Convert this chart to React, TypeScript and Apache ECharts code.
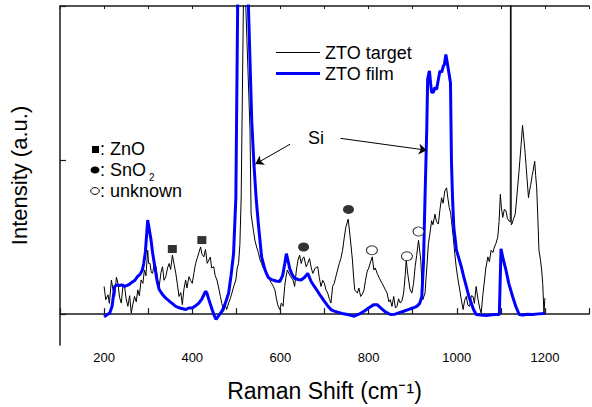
import React, { useEffect, useRef } from "react";
import * as echarts from "echarts";

// Raman shift (cm^-1), intensity (a.u.)
const ztoTarget: [number, number][] = [
  [200, 0.18], [203.8, 0.094], [209, 0.126], [212, 0.07], [216.6, 0.222], [220, 0.16], [224, 0.115], [228, 0.24],
  [231.5, 0.2], [235, 0.11], [239, 0.072], [243, 0.19], [246.5, 0.18], [250, 0.1], [254, 0.051], [258, 0.12],
  [261.6, 0.008], [265, 0.06], [269, 0.115], [273, 0.08], [276.4, 0.158], [280, 0.12], [284, 0.222],
  [288, 0.2], [291.5, 0.287], [295, 0.25], [298.9, 0.415], [301, 0.33], [304.3, 0.329], [307, 0.27],
  [310, 0.265], [314, 0.33], [317.8, 0.308], [321, 0.23], [325, 0.18], [329, 0.27], [332.6, 0.308],
  [336, 0.22], [340, 0.244], [344, 0.3], [347.6, 0.329], [351, 0.29], [355, 0.383], [359, 0.32],
  [362.7, 0.265], [366, 0.2], [370, 0.115], [374, 0.14], [377.5, 0.062], [381, 0.16], [385, 0.222],
  [388, 0.17], [392.6, 0.244], [396, 0.22], [400, 0.2], [404, 0.27], [407.6, 0.329], [412, 0.37],
  [418.9, 0.436], [422, 0.39], [426.3, 0.372], [430, 0.42], [434, 0.33], [437.5, 0.351], [441, 0.37],
  [444, 0.3], [448.8, 0.308], [452, 0.25], [456, 0.222], [460, 0.17], [463.8, 0.115], [467, 0.07],
  [471.2, 0.019], [475, 0.06], [478, 0.03], [482.5, 0.072], [486, 0.1], [490, 0.137], [494, 0.18],
  [498.9, 0.222], [502, 0.3], [505, 0.329], [508, 0.45], [511, 0.76], [516, 2.0], [518.5, 5],
  [521.4, 2.0], [531, 1.2], [533.5, 0.649], [538.7, 0.545], [542, 0.48], [546, 0.436], [550, 0.4],
  [553, 0.36], [557.3, 0.329], [561, 0.3], [565, 0.29], [568, 0.26], [572.4, 0.244], [576, 0.22],
  [580, 0.2], [584, 0.18], [587.4, 0.158], [591, 0.1], [594, 0.06], [598.6, 0.03], [602, 0.072],
  [606, 0.051], [609.7, 0.18], [612, 0.23], [615.7, 0.287], [621, 0.254], [628.5, 0.222],
  [632.3, 0.18], [636, 0.28], [639.8, 0.351], [643.6, 0.383], [647.2, 0.329], [650, 0.36],
  [653.3, 0.372], [658.4, 0.308], [662, 0.33], [666, 0.361], [670, 0.3], [673.5, 0.265],
  [679, 0.3], [684.7, 0.308], [688, 0.24], [692, 0.18], [696, 0.22], [699.8, 0.2], [703, 0.16],
  [707.2, 0.137], [711, 0.1], [714.6, 0.072], [718.4, 0.18], [722, 0.2], [725.8, 0.244],
  [729, 0.28], [733.5, 0.329], [737, 0.36], [741, 0.415], [745, 0.5], [748.3, 0.564],
  [753.7, 0.617], [758.2, 0.5], [763.4, 0.351], [766, 0.24], [768.5, 0.158], [774.6, 0.137],
  [778, 0.17], [782, 0.115], [786, 0.13], [789.7, 0.158], [793, 0.22], [797, 0.28],
  [800.5, 0.3], [804.5, 0.34], [808.3, 0.372], [812, 0.287], [815, 0.3], [819.5, 0.265],
  [825, 0.23], [830.8, 0.2], [836, 0.17], [842, 0.137], [846, 0.08], [849.4, 0.094],
  [853, 0.05], [857, 0.115], [861, 0.04], [864.5, 0.051], [868, 0.1], [872, 0.072],
  [876, 0.09], [879.5, 0.137], [883, 0.25], [885.4, 0.351], [888, 0.28], [890.8, 0.222],
  [894, 0.16], [898.2, 0.137], [902, 0.2], [905.6, 0.308], [909, 0.38], [913.3, 0.479],
  [918.4, 0.351], [921, 0.2], [923, 0.094], [928, 0.137], [932, 0.3], [935.7, 0.457],
  [939, 0.52], [943, 0.607], [946, 0.58], [950.6, 0.649], [954, 0.6], [958.2, 0.585],
  [962, 0.68], [965.6, 0.756], [969, 0.72], [973, 0.8], [976.9, 0.82], [980, 0.75],
  [983, 0.692], [986, 0.66], [988, 0.607], [992, 0.5], [995.5, 0.393], [999, 0.3],
  [1003, 0.222], [1006.8, 0.158], [1010, 0.1], [1014.4, 0.03], [1018, 0.09], [1021.7, 0.115],
  [1025, 0.06], [1029.2, 0.051], [1033, 0.12], [1036.8, 0.115], [1040, 0.07], [1044, 0.18],
  [1048, 0.1], [1052, 0.04], [1055.5, 0.008], [1059, 0.12], [1063, 0.222], [1066, 0.3],
  [1070.6, 0.372], [1074, 0.34], [1078, 0.415], [1082, 0.4], [1085.4, 0.436], [1089, 0.46],
  [1093, 0.5], [1096, 0.6], [1098.9, 0.778], [1101, 0.7], [1104.3, 0.628], [1108, 0.68],
  [1111.7, 0.671], [1115, 0.62], [1117.8, 0.607], [1121.4, 0.6], [1122.5, 5], [1123.6, 0.58],
  [1125.2, 0.585], [1129, 0.62], [1132.6, 0.649], [1135, 0.72], [1138, 0.82], [1141, 0.92],
  [1143, 0.992], [1146, 1.1], [1149.2, 1.226], [1152.8, 1.12], [1155, 1.05], [1158.2, 0.928],
  [1162.7, 0.756], [1165, 0.8], [1168, 0.842], [1171, 0.9], [1173, 0.928], [1176.8, 0.992],
  [1179, 0.9], [1181.3, 0.82], [1184, 0.62], [1186.5, 0.415], [1190, 0.35], [1192.6, 0.287],
  [1195, 0.2], [1197.8, 0.008], [1200, 0.104],
];

const ztoFilm: [number, number][] = [
  [200, -0.017], [206, -0.005], [212.8, 0.008], [218, 0.05], [224, 0.18], [229, 0.19], [235, 0.186],
  [240, 0.19], [246.5, 0.18], [255, 0.19], [265, 0.21], [270, 0.22], [275.7, 0.244], [282, 0.26],
  [287, 0.288], [290, 0.33], [293.7, 0.404], [298.9, 0.611], [302, 0.56], [306.5, 0.481],
  [310, 0.4], [314, 0.327], [320, 0.22], [325, 0.16], [332, 0.13], [340, 0.104], [350, 0.08],
  [362.7, 0.051], [372, 0.04], [385, 0.03], [392, 0.04], [400, 0.04], [408, 0.055], [415, 0.072],
  [422, 0.1], [430, 0.147], [433, 0.14], [437.5, 0.096], [445, 0.03], [450, -0.01], [454, -0.034],
  [460, -0.01], [467.4, 0.019], [475, 0.07], [482.5, 0.137], [488, 0.25], [493.7, 0.393],
  [498.9, 0.756], [503, 2.0], [515, 5], [527.4, 2.0], [535, 1.25], [540, 0.97], [545, 0.75],
  [550, 0.585], [557.3, 0.372], [565, 0.288], [572, 0.24], [580, 0.224], [590, 0.215],
  [598.6, 0.212], [605, 0.25], [610, 0.33], [613.5, 0.393], [617, 0.35], [621, 0.297],
  [626, 0.26], [632, 0.233], [640, 0.225], [647, 0.222], [655, 0.24], [662, 0.265],
  [669.7, 0.212], [677, 0.18], [684.7, 0.147], [692, 0.115], [699.8, 0.083], [707, 0.055],
  [714.6, 0.03], [722, 0.02], [729.7, 0.013], [740, 0.005], [752, -0.002], [760, -0.008],
  [767, -0.013], [778, 0.0], [789.7, 0.019], [800, 0.04], [812, 0.062], [819.5, 0.062],
  [828, 0.04], [838, 0.015], [849.4, -0.002], [860, 0.0], [870, 0.01], [879.5, 0.019],
  [890, 0.03], [900, 0.04], [909.4, 0.051], [916, 0.07], [920.7, 0.115], [924.5, 0.329],
  [928, 0.756], [932, 1.205], [934, 1.526], [938, 1.579], [941, 1.49], [943, 1.44],
  [947, 1.44], [950, 1.47], [954.4, 1.46], [958, 1.52], [962, 1.579], [966, 1.57],
  [969.5, 1.61], [972, 1.62], [975.3, 1.686], [978.4, 1.633], [982, 1.57], [985.8, 1.5],
  [988, 0.99], [990.5, 0.75], [993.3, 0.564], [999.3, 0.415], [1004, 0.37], [1010.4, 0.308],
  [1016, 0.24], [1021.7, 0.18], [1027, 0.12], [1032.9, 0.072], [1038, 0.03], [1044, -0.002],
  [1055, -0.005], [1066.8, -0.008], [1080, -0.004], [1090, -0.002], [1096.6, -0.002],
  [1100.4, 0.425], [1105, 0.36], [1111.6, 0.287], [1118, 0.2], [1126.7, 0.115], [1134, 0.05],
  [1141.6, -0.002], [1150, -0.006], [1160, 0.0], [1171.7, -0.002], [1185, 0.002], [1200, 0.004],
];

const znoPeaks: [number, number][] = [[354.8, 0.423], [421.8, 0.481]];
const sno2Peaks: [number, number][] = [[652.6, 0.436], [754.4, 0.68]];
const unknownPeaks: [number, number][] = [[807.6, 0.415], [887, 0.376], [913.3, 0.537]];

const xTickLabels: number[] = [200, 400, 600, 800, 1000, 1200];
const yTickValues: number[] = [0, 1, 2];
const seriesNames: string[] = ["ZTO target", "ZTO film"];

// "Si" arrows: [start, end] in data coordinates
const siArrows: [[number, number], [number, number]][] = [
  [[621.8, 1.103], [543.2, 0.974]],
  [[736.4, 1.141], [932, 1.064]],
];

const FONT = "'Liberation Sans', Arial, Helvetica, sans-serif";
const BLACK = "#000000";
const BLUE = "#0000ff";

export default function App() {
  const ref = useRef<HTMLDivElement>(null);

  useEffect(() => {
    document.body.style.margin = "0";
    if (!ref.current) return;
    const chart = echarts.init(ref.current, undefined, { renderer: "svg" });

    const axisLine = { show: true, lineStyle: { color: "#1a1a1a", width: 1.5 } };
    const txt = (x: number, y: number, text: string, fontSize: number) => ({
      type: "text",
      style: { x, y, text, fontFamily: FONT, fontSize, fill: BLACK, verticalAlign: "middle" },
    });

    const option: any = {
      animation: false,
      backgroundColor: "#ffffff",
      textStyle: { fontFamily: FONT },
      grid: { left: 59, top: 6, right: -2, bottom: 57, containLabel: false },
      xAxis: [
        {
          type: "value",
          min: 100,
          max: 1300,
          interval: 100,
          position: "bottom",
          name: "Raman Shift (cm\u207B\u00B9)",
          nameLocation: "middle",
          nameGap: 34,
          nameTextStyle: { fontFamily: FONT, fontSize: 23, color: BLACK },
          axisLine,
          axisTick: { show: true, inside: true, length: 6, lineStyle: { color: "#1a1a1a", width: 1.2 } },
          axisLabel: {
            show: true,
            margin: 6,
            fontFamily: FONT,
            fontSize: 13,
            color: BLACK,
            formatter: (v: number) => (xTickLabels.indexOf(v) >= 0 ? String(v) : ""),
          },
          splitLine: { show: false },
        },
        {
          type: "value",
          min: 100,
          max: 1300,
          interval: 100,
          position: "top",
          axisLine,
          axisTick: { show: true, inside: true, length: 3, lineStyle: { color: "#1a1a1a", width: 1 } },
          axisLabel: { show: false },
          splitLine: { show: false },
        },
      ],
      yAxis: [
        {
          type: "value",
          min: -0.2,
          max: 2,
          position: "left",
          name: "Intensity (a.u.)",
          nameLocation: "middle",
          nameGap: 30,
          nameTextStyle: { fontFamily: FONT, fontSize: 22, color: BLACK },
          axisLine,
          axisTick: {
            show: true,
            inside: true,
            length: 6,
            customValues: yTickValues,
            lineStyle: { color: "#1a1a1a", width: 1.2 },
          },
          axisLabel: { show: false },
          splitLine: { show: false },
        },
      ],
      graphic: [
        // series legend
        { type: "line", shape: { x1: 276, y1: 52.5, x2: 320, y2: 52.5 }, style: { stroke: BLACK, lineWidth: 1 } },
        txt(325, 53, seriesNames[0], 18),
        { type: "line", shape: { x1: 276, y1: 73.5, x2: 320, y2: 73.5 }, style: { stroke: BLUE, lineWidth: 3 } },
        txt(325, 74, seriesNames[1], 18),
        // phase marker key
        { type: "rect", shape: { x: 92, y: 146, width: 7, height: 7 }, style: { fill: BLACK } },
        txt(100, 149, ": ZnO", 18),
        { type: "ellipse", shape: { cx: 95, cy: 170, rx: 4.5, ry: 3.6 }, style: { fill: BLACK } },
        txt(100, 170, ": SnO", 18),
        txt(149, 177, "2", 10),
        { type: "ellipse", shape: { cx: 95, cy: 191, rx: 4.3, ry: 3.4 }, style: { fill: "#fff", stroke: BLACK, lineWidth: 1 } },
        txt(100, 191, ": unknown", 18),
        txt(308, 138, "Si", 18),
      ],
      series: [
        {
          name: seriesNames[0],
          type: "line",
          data: ztoTarget,
          symbol: "none",
          lineStyle: { color: BLACK, width: 1 },
          itemStyle: { color: BLACK },
          clip: true,
          z: 2,
          markLine: {
            silent: true,
            symbol: ["none", "arrow"],
            symbolSize: 8,
            label: { show: false },
            lineStyle: { color: BLACK, width: 1, type: "solid" },
            data: siArrows.map(([a, b]) => [{ coord: a }, { coord: b }]),
          },
        },
        {
          name: seriesNames[1],
          type: "line",
          data: ztoFilm,
          symbol: "none",
          lineStyle: { color: BLUE, width: 3 },
          itemStyle: { color: BLUE },
          clip: true,
          z: 3,
        },
        {
          name: "ZnO",
          type: "scatter",
          data: znoPeaks,
          symbol: "rect",
          symbolSize: [9, 8],
          itemStyle: { color: BLACK },
          z: 4,
        },
        {
          name: "SnO2",
          type: "scatter",
          data: sno2Peaks,
          symbol: "circle",
          symbolSize: [11, 9],
          itemStyle: { color: BLACK },
          z: 4,
        },
        {
          name: "unknown",
          type: "scatter",
          data: unknownPeaks,
          symbol: "circle",
          symbolSize: [11, 9],
          itemStyle: { color: "#fff", borderColor: BLACK, borderWidth: 1 },
          z: 4,
        },
      ],
    };

    chart.setOption(option);
    return () => chart.dispose();
  }, []);

  return <div ref={ref} style={{ width: 592, height: 407 }} />;
}
